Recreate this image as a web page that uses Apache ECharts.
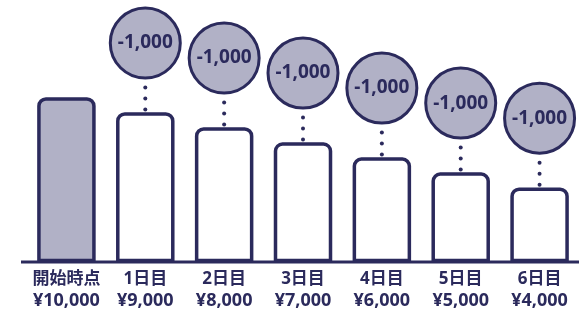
<!DOCTYPE html>
<html>
<head>
<meta charset="utf-8">
<script src="https://cdn.jsdelivr.net/npm/echarts@6/dist/echarts.min.js"></script>
<style>
  html, body { margin: 0; padding: 0; background: #fff; }
  #chart { width: 579px; height: 310px; }
</style>
</head>
<body>
<div id="chart"></div>
<script>
  // data
  const categories = ['開始時点', '1日目', '2日目', '3日目', '4日目', '5日目', '6日目']
  const balances = [10000, 9000, 8000, 7000, 6000, 5000, 4000]
  const balanceLabels = ['¥10,000', '¥9,000', '¥8,000', '¥7,000', '¥6,000', '¥5,000', '¥4,000']
  const changes = [null, -1000, -1000, -1000, -1000, -1000, -1000]

  const navy = '#2b2a5c'
  const grey = '#b1b1c6'
  const yMin = -750
  const font = '"Noto Sans", "Noto Sans CJK JP", sans-serif'

  const chart = echarts.init(document.getElementById('chart'))

  const barData = balances.map((v, i) => [i, v])
  const changeData = []
  changes.forEach((c, i) => {
    if (c !== null) changeData.push([i, balances[i], c])
  })

  chart.setOption({
    animation: false,
    grid: { left: 27, right: -1, top: 99, bottom: 48 },
    xAxis: {
      type: 'category',
      data: categories,
      axisLine: { show: false },
      axisTick: { show: false },
      axisLabel: {
        margin: 8,
        interval: 0,
        formatter: (value, idx) => '{a|' + value + '}\n{b|' + balanceLabels[idx] + '}',
        rich: {
          a: { fontSize: 17, fontWeight: 'bold', color: navy, lineHeight: 21, fontFamily: font },
          b: { fontSize: 18, fontWeight: 'bold', color: navy, lineHeight: 23, fontFamily: font }
        }
      }
    },
    yAxis: {
      type: 'value',
      min: yMin,
      max: 10000,
      show: false
    },
    graphic: [{
      type: 'line',
      shape: { x1: 21, y1: 262, x2: 579, y2: 262 },
      style: { stroke: navy, lineWidth: 3 },
      z: 10
    }],
    series: [
      {
        // bars
        type: 'custom',
        data: barData,
        renderItem: function (params, api) {
          const top = api.coord([api.value(0), api.value(1)])
          const base = api.coord([api.value(0), yMin])
          const w = 55
          return {
            type: 'rect',
            shape: { x: top[0] - w / 2, y: top[1], width: w, height: base[1] - top[1], r: [7, 7, 0, 0] },
            style: {
              fill: params.dataIndex === 0 ? grey : '#fff',
              stroke: navy,
              lineWidth: 3.5
            }
          }
        }
      },
      {
        // change bubbles
        type: 'custom',
        data: changeData,
        z: 3,
        renderItem: function (params, api) {
          const top = api.coord([api.value(0), api.value(1)])
          const cx = top[0]
          const cy = top[1] - 71
          const label = api.value(2).toLocaleString('en-US')
          const dots = [26.5, 15.5, 4.5].map(d => ({
            type: 'circle',
            shape: { cx: cx, cy: top[1] - d, r: 2 },
            style: { fill: navy }
          }))
          return {
            type: 'group',
            children: dots.concat([
              {
                type: 'circle',
                shape: { cx: cx, cy: cy, r: 35 },
                style: { fill: grey, stroke: navy, lineWidth: 3 }
              },
              {
                type: 'text',
                x: cx,
                y: cy,
                style: {
                  text: label,
                  fill: navy,
                  font: 'bold 19px ' + font,
                  align: 'center',
                  verticalAlign: 'middle'
                }
              }
            ])
          }
        }
      }
    ]
  })
</script>
</body>
</html>
